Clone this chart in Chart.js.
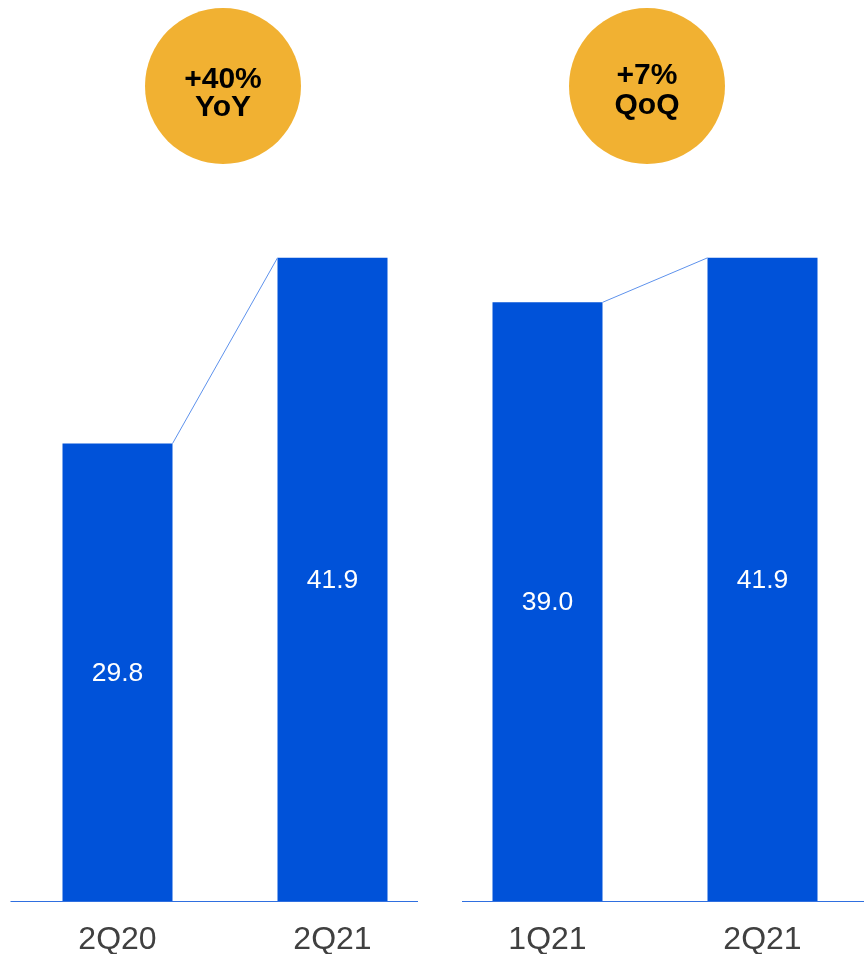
<!DOCTYPE html>
<html>
<head>
<meta charset="utf-8">
<script src="https://cdn.jsdelivr.net/npm/chart.js@4.4.1/dist/chart.umd.min.js"></script>
<style>
  html, body { margin: 0; padding: 0; background: #ffffff; overflow: hidden; }
  #wrap { width: 864px; height: 954px; overflow: hidden; position: relative; }
  canvas { display: block; }
</style>
</head>
<body>
<div id="wrap"><canvas id="c" width="872" height="979"></canvas></div>
<script>
// ---- data ----
const categories = ['2Q20', '2Q21', '1Q21', '2Q21 '];
const values = [29.8, 41.9, 39.0, 41.9];
const valueLabels = ['29.8', '41.9', '39.0', '41.9'];
const badgeLines = [['+40%', 'YoY'], ['+7%', 'QoQ']];
const groups = [[0, 1], [2, 3]];

const BAR = '#0052D9';
const LINK = '#5E92EC';
const AXIS = '#2F6FE0';
const BADGE = '#F1B132';
const FONT = '"Liberation Sans", Arial, Helvetica, sans-serif';
const badgeShift = [-2, -8];
const badgeTextY = [[80, 108], [76, 106]];

const decor = {
  id: 'decor',
  afterDatasetsDraw(chart) {
    const ctx = chart.ctx;
    const meta = chart.getDatasetMeta(0);
    const els = meta.data;
    const area = chart.chartArea;
    ctx.save();
    // connectors
    ctx.strokeStyle = LINK;
    ctx.lineWidth = 1;
    groups.forEach(([a, b]) => {
      const ea = els[a], eb = els[b];
      ctx.beginPath();
      ctx.moveTo(ea.x + ea.width / 2, ea.y);
      ctx.lineTo(eb.x - eb.width / 2, eb.y);
      ctx.stroke();
    });
    // baselines (two segments)
    const mid = (els[1].x + els[2].x) / 2;
    const gap = 22;
    const yb = Math.round(area.bottom) + 0.5;
    ctx.strokeStyle = AXIS;
    ctx.beginPath();
    ctx.moveTo(area.left + 0.5, yb);
    ctx.lineTo(mid - gap, yb);
    ctx.moveTo(mid + gap, yb);
    ctx.lineTo(chart.width, yb);
    ctx.stroke();
    // value labels
    ctx.fillStyle = '#ffffff';
    ctx.font = '26.5px ' + FONT;
    ctx.textAlign = 'center';
    ctx.textBaseline = 'middle';
    els.forEach((el, i) => {
      ctx.fillText(valueLabels[i], el.x, (el.y + el.base) / 2 + 1);
    });
    // badges
    groups.forEach(([a, b], g) => {
      const cx = (els[a].x + els[b].x) / 2 + badgeShift[g];
      const cy = 86;
      ctx.fillStyle = BADGE;
      ctx.beginPath();
      ctx.arc(cx, cy, 78, 0, Math.PI * 2);
      ctx.fill();
      ctx.fillStyle = '#000000';
      ctx.font = 'bold 30px ' + FONT;
      ctx.textAlign = 'center';
      ctx.textBaseline = 'middle';
      ctx.fillText(badgeLines[g][0], cx, badgeTextY[g][0]);
      ctx.fillText(badgeLines[g][1], cx, badgeTextY[g][1]);
    });
    ctx.restore();
  }
};

new Chart(document.getElementById('c'), {
  type: 'bar',
  data: {
    labels: categories,
    datasets: [{
      data: values,
      backgroundColor: BAR,
      borderWidth: 0,
      barPercentage: 110 / 215,
      categoryPercentage: 1.0
    }]
  },
  options: {
    responsive: false,
    animation: false,
    events: [],
    layout: { padding: { left: 10, right: 2, top: 133.5, bottom: 0 } },
    plugins: { legend: { display: false }, tooltip: { enabled: false } },
    scales: {
      x: {
        grid: { display: false, drawTicks: false },
        border: { display: false },
        ticks: {
          color: '#404040',
          font: { family: FONT, size: 32, lineHeight: 1 },
          padding: 23,
          maxRotation: 0,
          callback: function (v, i) { return categories[i].trim(); }
        }
      },
      y: {
        display: false,
        min: 0,
        max: 50
      }
    }
  },
  plugins: [decor]
});
</script>
</body>
</html>
